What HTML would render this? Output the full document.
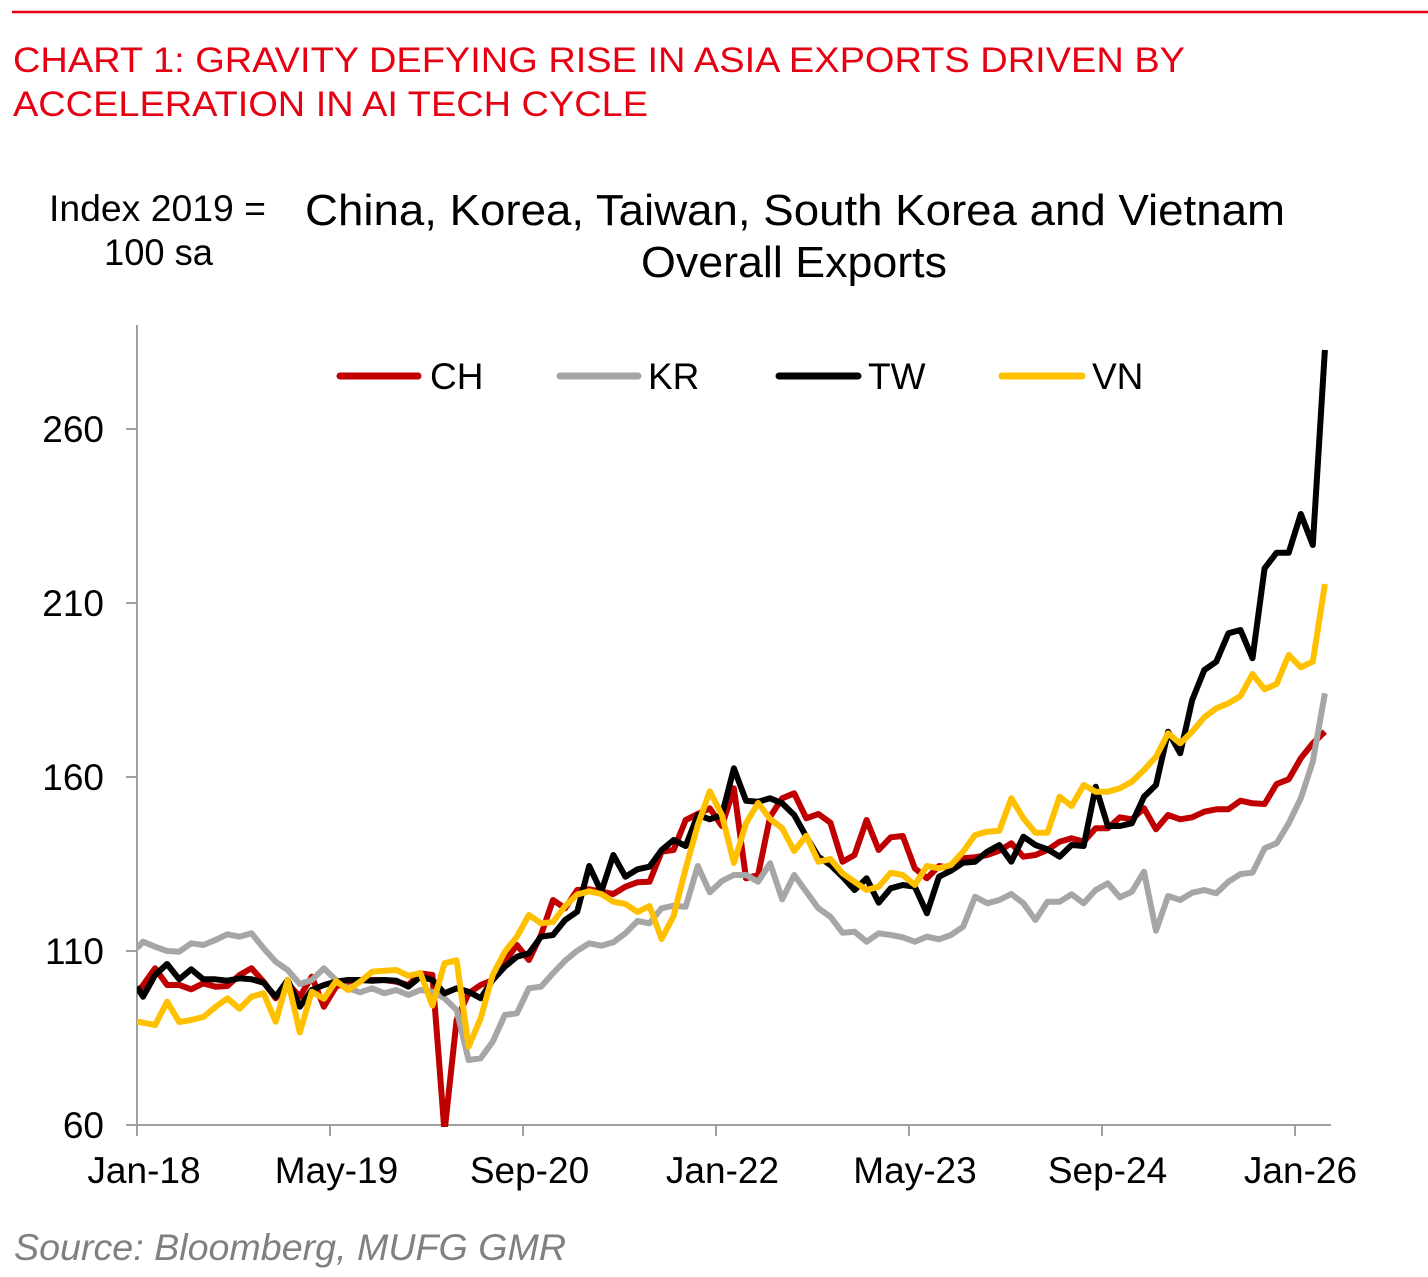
<!DOCTYPE html>
<html>
<head>
<meta charset="utf-8">
<style>
html,body{margin:0;padding:0;background:#fff;}
svg{display:block;}
text{font-family:"Liberation Sans",Arial,sans-serif;}
</style>
</head>
<body>
<svg width="1428" height="1277" viewBox="0 0 1428 1277" xmlns="http://www.w3.org/2000/svg">
<defs>
<clipPath id="plot"><rect x="137" y="300" width="1200" height="827"/></clipPath>
</defs>
<rect width="1428" height="1277" fill="#fff"/>
<line x1="12" y1="12" x2="1428" y2="12" stroke="#E60012" stroke-width="2.5"/>
<text x="13" y="72" font-size="35" fill="#E60012" textLength="1172" lengthAdjust="spacingAndGlyphs">CHART 1: GRAVITY DEFYING RISE IN ASIA EXPORTS DRIVEN BY</text>
<text x="13" y="116" font-size="35" fill="#E60012" textLength="635" lengthAdjust="spacingAndGlyphs">ACCELERATION IN AI TECH CYCLE</text>

<text x="49" y="221" font-size="37" fill="#000" textLength="217" lengthAdjust="spacingAndGlyphs">Index 2019 =</text>
<text x="104" y="265" font-size="37" fill="#000" textLength="109" lengthAdjust="spacingAndGlyphs">100 sa</text>

<text x="305" y="225" font-size="44" fill="#000" textLength="980" lengthAdjust="spacingAndGlyphs">China, Korea, Taiwan, South Korea and Vietnam</text>
<text x="641" y="277" font-size="44" fill="#000" textLength="306" lengthAdjust="spacingAndGlyphs">Overall Exports</text>

<!-- axes -->
<g stroke="#A0A0A0" stroke-width="2" fill="none">
<line x1="137" y1="325" x2="137" y2="1126"/>
<line x1="136" y1="1125" x2="1331" y2="1125"/>
<line x1="126" y1="429" x2="137" y2="429"/>
<line x1="126" y1="603" x2="137" y2="603"/>
<line x1="126" y1="777" x2="137" y2="777"/>
<line x1="126" y1="951" x2="137" y2="951"/>
<line x1="126" y1="1125" x2="137" y2="1125"/>
<line x1="137" y1="1125" x2="137" y2="1136"/>
<line x1="330" y1="1125" x2="330" y2="1136"/>
<line x1="523" y1="1125" x2="523" y2="1136"/>
<line x1="716" y1="1125" x2="716" y2="1136"/>
<line x1="909" y1="1125" x2="909" y2="1136"/>
<line x1="1102" y1="1125" x2="1102" y2="1136"/>
<line x1="1295" y1="1125" x2="1295" y2="1136"/>
</g>

<g font-size="37" fill="#000" text-anchor="end">
<text x="104" y="442">260</text>
<text x="104" y="616">210</text>
<text x="104" y="790">160</text>
<text x="104" y="964">110</text>
<text x="104" y="1138">60</text>
</g>
<g font-size="37" fill="#000" text-anchor="middle">
<text x="144" y="1183">Jan-18</text>
<text x="336.5" y="1183">May-19</text>
<text x="529.5" y="1183">Sep-20</text>
<text x="722.5" y="1183">Jan-22</text>
<text x="915" y="1183">May-23</text>
<text x="1107.5" y="1183">Sep-24</text>
<text x="1300.5" y="1183">Jan-26</text>
</g>

<!-- legend -->
<g stroke-width="7" stroke-linecap="round">
<line x1="340" y1="376" x2="418" y2="376" stroke="#C00000"/>
<line x1="560" y1="376" x2="638" y2="376" stroke="#A6A6A6"/>
<line x1="779" y1="376" x2="858" y2="376" stroke="#000"/>
<line x1="1002" y1="376" x2="1082" y2="376" stroke="#FFC000"/>
</g>
<g font-size="37" fill="#000">
<text x="430" y="389">CH</text>
<text x="648" y="389">KR</text>
<text x="868" y="389">TW</text>
<text x="1092" y="389">VN</text>
</g>

<g fill="none" stroke-width="6" stroke-linejoin="round" stroke-linecap="butt" clip-path="url(#plot)">
<!-- CH -->
<polyline stroke="#C00000" points="137,993.3 143.0,985.3 155.1,968.3 167.1,985 179.2,985 191.2,989.3 203.3,983.3 215.4,986.7 227.4,986 239.5,975 251.5,968.3 263.6,981.7 275.7,998.3 287.7,983.3 299.8,996.7 311.8,976.7 323.9,1006.7 336.0,986.7 348.0,981.7 360.1,980 372.1,980 384.2,980 396.3,981.7 408.3,985 420.4,973.3 432.4,975 444.5,1132 456.6,1020 468.6,993.3 480.7,985 492.7,980 504.8,961.7 516.9,945 528.9,960 541.0,935 553.0,900 565.1,908.3 577.2,890 589.2,889.3 601.3,891.7 613.3,894 625.4,886.7 637.5,882.3 649.5,881.7 661.6,851.7 673.6,850 685.7,820 697.8,814 709.8,808.3 721.9,826 733.9,788.3 746.0,878.3 758.1,875 770.1,816.7 782.2,798.3 794.2,793.3 806.3,818.3 818.4,814 830.4,822.7 842.5,861.7 854.5,855 866.6,820 878.7,850 890.7,837.3 902.8,836 914.8,868.3 926.9,878.3 939.0,866 951.0,868.3 963.1,858.3 975.1,857.3 987.2,855 999.3,850.7 1011.3,843.3 1023.4,856.7 1035.4,855 1047.5,850 1059.6,841.7 1071.6,838.3 1083.7,841.7 1095.7,828.3 1107.8,828.3 1119.9,817.3 1131.9,819.3 1144.0,808.3 1156.0,829.3 1168.1,815 1180.2,819.3 1192.2,817.3 1204.3,811.7 1216.3,809.3 1228.4,809.3 1240.5,800.7 1252.5,803.3 1264.6,804 1276.6,784 1288.7,779.3 1300.8,758.3 1312.8,743.3 1324.9,731.7"/>
<!-- KR -->
<polyline stroke="#A6A6A6" points="137,948.3 143.0,941.7 155.1,946.7 167.1,951 179.2,951.7 191.2,943.3 203.3,945 215.4,940 227.4,934.3 239.5,936.7 251.5,933.3 263.6,948.3 275.7,961.7 287.7,970 299.8,984 311.8,980 323.9,968.3 336.0,980 348.0,988.3 360.1,992.3 372.1,988.3 384.2,993.3 396.3,990 408.3,995 420.4,990 432.4,991.7 444.5,998.3 456.6,1010 468.6,1060 480.7,1058.3 492.7,1041.7 504.8,1015 516.9,1013.3 528.9,988.3 541.0,986.7 553.0,973.3 565.1,960.7 577.2,950.7 589.2,943.3 601.3,945.7 613.3,942.3 625.4,933.3 637.5,921 649.5,923.3 661.6,908.3 673.6,905.7 685.7,906.7 697.8,866 709.8,892.3 721.9,881 733.9,875 746.0,875 758.1,881.7 770.1,863.3 782.2,899.3 794.2,875 806.3,891.7 818.4,908.3 830.4,916.7 842.5,932.7 854.5,931.7 866.6,941.7 878.7,933.3 890.7,935 902.8,937.3 914.8,941.7 926.9,936.7 939.0,939.3 951.0,935 963.1,926.7 975.1,896.7 987.2,903.3 999.3,900 1011.3,894 1023.4,903.3 1035.4,920 1047.5,901.7 1059.6,901.7 1071.6,894.3 1083.7,903.3 1095.7,890 1107.8,883.3 1119.9,897.3 1131.9,891.7 1144.0,871.7 1156.0,930.7 1168.1,896 1180.2,900 1192.2,892.7 1204.3,890 1216.3,893.3 1228.4,881.7 1240.5,874 1252.5,872.7 1264.6,848.3 1276.6,843.3 1288.7,823.3 1300.8,798.3 1312.8,761.7 1324.9,693.3"/>
<!-- TW -->
<polyline stroke="#000000" points="137,986.7 143.0,996.7 155.1,975 167.1,964 179.2,979.3 191.2,969.3 203.3,979.3 215.4,979.3 227.4,980.7 239.5,978.3 251.5,979.3 263.6,982.7 275.7,996.7 287.7,980 299.8,1006.7 311.8,990 323.9,985 336.0,981.7 348.0,980 360.1,980 372.1,980.7 384.2,980 396.3,980.7 408.3,986.7 420.4,976.7 432.4,980 444.5,993.3 456.6,988.3 468.6,991.7 480.7,998.3 492.7,980 504.8,966.7 516.9,956.7 528.9,953.3 541.0,936.7 553.0,935 565.1,920 577.2,911.7 589.2,866 601.3,891.7 613.3,855 625.4,876.7 637.5,869.3 649.5,866.7 661.6,850 673.6,840 685.7,846 697.8,815 709.8,819.3 721.9,815 733.9,768.3 746.0,800.7 758.1,801.7 770.1,798.3 782.2,803.3 794.2,815 806.3,836.7 818.4,856.7 830.4,865 842.5,876.7 854.5,890 866.6,878.3 878.7,902.7 890.7,888.3 902.8,885 914.8,886.7 926.9,913.3 939.0,876.7 951.0,870.7 963.1,862.7 975.1,861.7 987.2,851.7 999.3,845 1011.3,861.7 1023.4,836.7 1035.4,845 1047.5,849.3 1059.6,856.7 1071.6,845 1083.7,846 1095.7,786.7 1107.8,826 1119.9,826 1131.9,823.3 1144.0,796.7 1156.0,785 1168.1,731.7 1180.2,753.3 1192.2,700 1204.3,670 1216.3,661.7 1228.4,633.3 1240.5,630 1252.5,658.3 1264.6,568.3 1276.6,552.7 1288.7,552.7 1300.8,514 1312.8,545 1324.9,350"/>
<!-- VN -->
<polyline stroke="#FFC000" points="137,1021.7 143.0,1022.7 155.1,1025 167.1,1001.7 179.2,1022 191.2,1020 203.3,1017 215.4,1007 227.4,998.3 239.5,1008.7 251.5,996.7 263.6,993.3 275.7,1021.7 287.7,980 299.8,1032.5 311.8,991.7 323.9,998.8 336.0,981 348.0,990 360.1,981.7 372.1,971.7 384.2,970.7 396.3,970 408.3,975.8 420.4,973 432.4,1005.5 444.5,963.3 456.6,960.3 468.6,1046.7 480.7,1018.3 492.7,975 504.8,951.7 516.9,936.7 528.9,915 541.0,923.3 553.0,922 565.1,906 577.2,894.5 589.2,891.3 601.3,894 613.3,901.7 625.4,904 637.5,912 649.5,906 661.6,939 673.6,916 685.7,868.3 697.8,825 709.8,791.2 721.9,815 733.9,863 746.0,823.3 758.1,803 770.1,819 782.2,828.3 794.2,851 806.3,835.8 818.4,861.7 830.4,859 842.5,873.3 854.5,881.7 866.6,890 878.7,886.7 890.7,872.7 902.8,875 914.8,885 926.9,866 939.0,868.3 951.0,865 963.1,851.7 975.1,835 987.2,831.7 999.3,830.7 1011.3,798.3 1023.4,818.3 1035.4,832.7 1047.5,832.7 1059.6,796.7 1071.6,806 1083.7,785 1095.7,791.7 1107.8,791.7 1119.9,788.3 1131.9,781.7 1144.0,770 1156.0,756.7 1168.1,733.3 1180.2,743.3 1192.2,731.7 1204.3,717.3 1216.3,708.3 1228.4,703.3 1240.5,696 1252.5,674 1264.6,689.3 1276.6,684 1288.7,655 1300.8,667.3 1312.8,661.7 1324.9,584"/>
</g>

<text x="14" y="1260" font-size="37" font-style="italic" fill="#808080" textLength="552" lengthAdjust="spacingAndGlyphs">Source: Bloomberg, MUFG GMR</text>
</svg>
</body>
</html>
